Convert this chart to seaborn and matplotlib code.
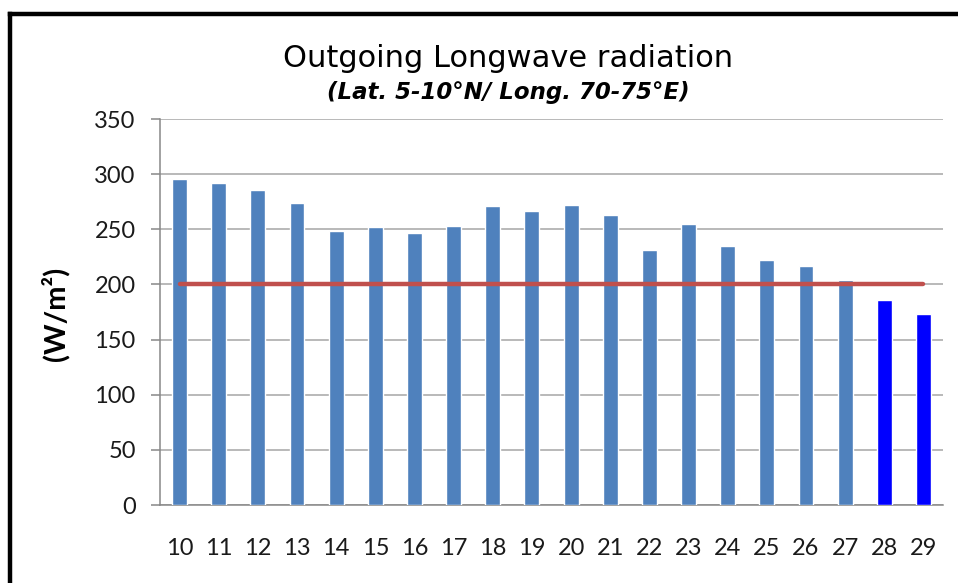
import matplotlib
matplotlib.use('Agg')
import matplotlib.pyplot as plt
import seaborn as sns
import numpy as np
import pandas as pd
from matplotlib.lines import Line2D

# data
days = ['10', '11', '12', '13', '14', '15', '16', '17', '18', '19',
        '20', '21', '22', '23', '24', '25', '26', '27', '28', '29']
olr = [296, 292, 286, 274, 248, 252, 247, 253, 271, 267,
       272, 263, 231, 255, 235, 222, 217, 204, 186, 173]
bar_colors = ['#4F81BD'] * 18 + ['#0000FF'] * 2
threshold = 200

df = pd.DataFrame({'day': days, 'olr': olr})

sns.set_style('white')
plt.rcParams['font.family'] = ['Lato', 'DejaVu Sans']

fig = plt.figure(figsize=(9.58, 5.83), dpi=100)
ax = fig.add_axes([160/958, 78/583, 783/958, 386/583])

sns.barplot(data=df, x='day', y='olr', hue='day', palette=bar_colors,
            width=0.38, saturation=1, legend=False, ax=ax, zorder=3)

# threshold line
sns.lineplot(x=np.arange(len(days)), y=[threshold] * len(days),
             color='#C0504D', linewidth=3.2, ax=ax, zorder=4)
ax.lines[-1].set_solid_capstyle('round')

ax.set_ylim(0, 350)
ax.set_xlim(-0.5, len(days) - 0.5)
ax.set_yticks(range(0, 351, 50))
ax.yaxis.grid(True, color='#A6A6A6', linewidth=1.1)
ax.set_axisbelow(True)

for s in ['top', 'right']:
    ax.spines[s].set_visible(False)
for s in ['left', 'bottom']:
    ax.spines[s].set_color('#888888')
    ax.spines[s].set_linewidth(1.1)

ax.set_xticks(np.arange(-0.5, len(days)), minor=True)
ax.tick_params(axis='x', which='minor', length=6.5, color='#888888', width=1.1, direction='out')
ax.tick_params(axis='x', which='major', length=0, pad=24, labelsize=17, colors='#1a1a1a')
ax.tick_params(axis='y', length=6.5, color='#888888', width=1.1, pad=11, labelsize=17,
               labelcolor='#1a1a1a', left=True)
ax.set_xlabel('')
ax.set_ylabel('')

fig.text(508/958, 1 - 67/583, 'Outgoing Longwave radiation', ha='center', va='baseline',
         fontsize=22, family='DejaVu Sans', color='black')
fig.text(508/958, 1 - 99/583, '(Lat. 5-10°N/ Long. 70-75°E)', ha='center', va='baseline',
         fontsize=16.5, family='DejaVu Sans', style='italic', weight='bold', color='black')
fig.text(55/958, 1 - 314/583, '(W/m²)', rotation=90, ha='center', va='center',
         fontsize=21, weight='bold', color='black')

# black frame (top and left edges visible)
fig.add_artist(Line2D([10/958, 10/958], [0, 1 - 14/583], color='black', linewidth=3.2,
                      transform=fig.transFigure, solid_capstyle='projecting'))
fig.add_artist(Line2D([10/958, 957/958], [1 - 14/583, 1 - 14/583], color='black', linewidth=3.2,
                      transform=fig.transFigure, solid_capstyle='projecting'))

fig.savefig('out.png', dpi=100)
